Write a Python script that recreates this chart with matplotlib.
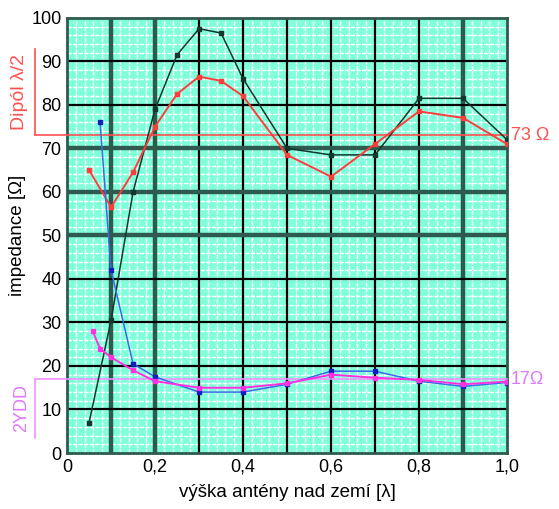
import matplotlib
matplotlib.use('Agg')
import matplotlib.pyplot as plt
import matplotlib.transforms as mtransforms
import numpy as np

plt.rcParams['font.family'] = ['Liberation Sans', 'DejaVu Sans']

# dipol lambda/2 - measured (black) and calculated (red)
dip_x = [0.05, 0.1, 0.15, 0.2, 0.25, 0.3, 0.35, 0.4, 0.5, 0.6, 0.7, 0.8, 0.9, 1.0]
dip_meas = [7, 30.5, 60, 79, 91.5, 97.5, 96.5, 86, 70, 68.5, 68.5, 81.5, 81.5, 72]
dip_calc_x = [0.05, 0.1, 0.15, 0.2, 0.25, 0.3, 0.35, 0.4, 0.5, 0.6, 0.7, 0.8, 0.9, 1.0]
dip_calc = [65, 56.5, 64.5, 75, 82.5, 86.5, 85.5, 82, 68.5, 63.5, 71, 78.5, 77, 71]

# 2YDD - measured (blue) and calculated (magenta)
ydd_x = [0.075, 0.1, 0.15, 0.2, 0.3, 0.4, 0.5, 0.6, 0.7, 0.8, 0.9, 1.0]
ydd_meas = [76, 42, 20.5, 17.5, 14, 14, 15.8, 18.8, 18.8, 16.5, 15.3, 16.2]
ydd_calc_x = [0.058, 0.075, 0.1, 0.15, 0.2, 0.3, 0.4, 0.5, 0.6, 0.7, 0.8, 0.9, 1.0]
ydd_calc = [28, 24, 22, 19, 16.5, 15, 15, 16, 18, 17.3, 16.8, 15.8, 16.4]

dip_ref = 73
ydd_ref = 17

x_ticks = [0, 0.2, 0.4, 0.6, 0.8, 1.0]
x_labels = ['0', '0,2', '0,4', '0,6', '0,8', '1,0']

fig = plt.figure(figsize=(5.59, 5.09), dpi=100)
ax = fig.add_axes([0.12, 0.11, 0.787, 0.855])
ax.set_facecolor('#80ffdb')

# fine white grid
for xv in np.arange(0.02, 1.0, 0.02):
    ax.axvline(xv, color='white', lw=1.0, ls=(0, (3, 1)), zorder=0.5)
for yv in np.arange(2, 100, 2):
    ax.axhline(yv, color='white', lw=1.0, ls=(0, (3, 1)), zorder=0.5)

# major grid, some lines thicker
thick_x = [0.1, 0.2, 0.9]
thick_y = [50, 60, 70]
for xv in np.arange(0.1, 1.0, 0.1):
    xv = round(xv, 1)
    if xv in thick_x:
        ax.axvline(xv, color='#2f5a4e', lw=3.2, zorder=1)
    else:
        ax.axvline(xv, color='black', lw=1.6, zorder=1)
for yv in range(10, 100, 10):
    if yv in thick_y:
        ax.axhline(yv, color='#2f5a4e', lw=3.2, zorder=1)
    else:
        ax.axhline(yv, color='black', lw=1.6, zorder=1)

ax.plot(dip_x, dip_meas, color='#12382c', lw=1.1, marker='s', ms=3, zorder=4)
ax.plot(dip_calc_x, dip_calc, color='#ff3c3c', lw=1.4, marker='s', ms=2.5, zorder=4)
ax.plot(ydd_x, ydd_meas, color='#3a6ae8', lw=1.1, marker='s', ms=3, mfc='#1020c0', mec='#1020c0', zorder=4)
ax.plot(ydd_calc_x, ydd_calc, color='#ff30e0', lw=1.4, marker='s', ms=2.5, zorder=4)

# reference lines with brackets outside the axes
trans = mtransforms.blended_transform_factory(ax.transAxes, ax.transData)
ax.plot([-0.073, 1.0], [dip_ref, dip_ref], color='#ff5050', lw=1.2, transform=trans, clip_on=False, zorder=3)
ax.plot([-0.073, -0.073], [dip_ref, 92.8], color='#ff5050', lw=1.2, transform=trans, clip_on=False)
ax.text(-0.108, 83, 'Dipól λ/2', color='#ff5050', fontsize=14, rotation=90,
        ha='center', va='center', transform=trans)
ax.text(1.008, dip_ref, '73 Ω', color='#ff5050', fontsize=13, ha='left', va='center', transform=trans)

ax.plot([-0.073, 1.0], [ydd_ref, ydd_ref], color='#f090ff', lw=1.2, transform=trans, clip_on=False, zorder=3)
ax.plot([-0.073, -0.073], [ydd_ref, 3.5], color='#f090ff', lw=1.2, transform=trans, clip_on=False)
ax.text(-0.103, 10.3, '2YDD', color='#dd77ff', fontsize=13, rotation=90,
        ha='center', va='center', transform=trans)
ax.text(1.008, ydd_ref, '17Ω', color='#dd77ff', fontsize=13, ha='left', va='center', transform=trans)

ax.set_xlim(0, 1.0)
ax.set_ylim(0, 100)
ax.set_xticks(x_ticks)
ax.set_xticklabels(x_labels)
ax.set_yticks(range(0, 101, 10))
ax.tick_params(labelsize=13, length=0, pad=4)
for s in ax.spines.values():
    s.set_color('#2f5a4e')
    s.set_linewidth(2)
ax.set_xlabel('výška antény nad zemí [λ]', fontsize=13.5, labelpad=6)
ax.set_ylabel('impedance [Ω]', fontsize=13.5, labelpad=4)

fig.savefig('out.png', dpi=100)
